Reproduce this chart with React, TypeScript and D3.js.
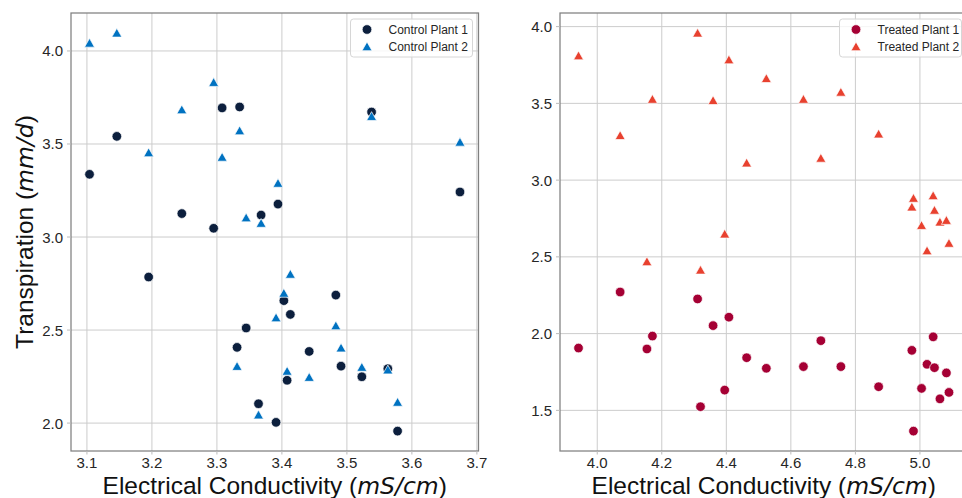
import React, { useEffect, useRef } from 'react';
import * as d3 from 'd3';

// electrical conductivity readings (shared by both plants of a group)
const ecControl = [3.104, 3.146, 3.195, 3.246, 3.295, 3.308, 3.331, 3.335, 3.345, 3.364, 3.368, 3.391,
  3.394, 3.403, 3.408, 3.413, 3.442, 3.483, 3.491, 3.523, 3.538, 3.563, 3.578, 3.674];
const controlPlant1 = [3.337, 3.541, 2.785, 3.126, 3.047, 3.694, 2.407, 3.699, 2.511, 2.104, 3.118, 2.004,
  3.177, 2.658, 2.230, 2.584, 2.385, 2.688, 2.306, 2.249, 3.672, 2.292, 1.957, 3.242];
const controlPlant2 = [4.043, 4.097, 3.454, 3.685, 3.832, 3.430, 2.306, 3.572, 3.104, 2.045, 3.075, 2.567,
  3.290, 2.699, 2.280, 2.801, 2.247, 2.524, 2.405, 2.301, 3.649, 2.287, 2.113, 3.511];

const ecTreated = [3.942, 4.071, 4.154, 4.171, 4.311, 4.320, 4.359, 4.395, 4.408, 4.463, 4.524, 4.639,
  4.693, 4.755, 4.872, 4.975, 4.980, 5.005, 5.022, 5.041, 5.045, 5.062, 5.082, 5.090];
const treatedPlant1 = [1.906, 2.271, 1.900, 1.984, 2.226, 1.524, 2.052, 1.632, 2.107, 1.843, 1.774, 1.785,
  1.954, 1.785, 1.654, 1.891, 1.365, 1.643, 1.800, 1.979, 1.778, 1.575, 1.744, 1.617];
const treatedPlant2 = [3.811, 3.292, 2.470, 3.528, 3.959, 2.415, 3.520, 2.650, 3.785, 3.113, 3.663, 3.528,
  3.144, 3.574, 3.302, 2.826, 2.883, 2.706, 2.541, 2.900, 2.805, 2.728, 2.739, 2.590];

const controlXTicks = [3.1, 3.2, 3.3, 3.4, 3.5, 3.6, 3.7];
const controlYTicks = [2.0, 2.5, 3.0, 3.5, 4.0];
const treatedXTicks = [4.0, 4.2, 4.4, 4.6, 4.8, 5.0];
const treatedYTicks = [1.5, 2.0, 2.5, 3.0, 3.5, 4.0];

const FONT = "'Liberation Sans', Arial, sans-serif";
const MATH = "'DejaVu Sans', sans-serif";
const TEXT = "#262626";

const pad = (lo, hi) => {
  const r = hi - lo;
  return [lo - r * 0.05, hi + r * 0.05];
};

const triPath = "M0,-4.6L5,4.2L-5,4.2Z";

const drawPanel = (svg, cfg) => {
  const { x, s1, s2, xTicks, yTicks, left, right, top, bottom, names, colors, yLabel } = cfg;

  const xScale = d3.scaleLinear()
    .domain(pad(d3.min(x), d3.max(x)))
    .range([left, right]);
  const yScale = d3.scaleLinear()
    .domain(pad(d3.min([...s1, ...s2]), d3.max([...s1, ...s2])))
    .range([bottom, top]);

  const g = svg.append("g");

  // grid lines
  g.selectAll(".vgrid").data(xTicks).enter().append("line")
    .attr("x1", d => xScale(d)).attr("x2", d => xScale(d))
    .attr("y1", top).attr("y2", bottom)
    .attr("stroke", "#cccccc").attr("stroke-width", 1);
  g.selectAll(".hgrid").data(yTicks).enter().append("line")
    .attr("x1", left).attr("x2", right)
    .attr("y1", d => yScale(d)).attr("y2", d => yScale(d))
    .attr("stroke", "#cccccc").attr("stroke-width", 1);

  // frame
  g.append("rect")
    .attr("x", left).attr("y", top)
    .attr("width", right - left).attr("height", bottom - top)
    .attr("fill", "none").attr("stroke", "#808080").attr("stroke-width", 1.25);

  // y ticks + labels
  g.selectAll(".ytick").data(yTicks).enter().append("line")
    .attr("x1", left - 4).attr("x2", left)
    .attr("y1", d => yScale(d)).attr("y2", d => yScale(d))
    .attr("stroke", "#bbbbbb");
  g.selectAll(".ylab").data(yTicks).enter().append("text")
    .attr("x", left - 8)
    .attr("y", d => yScale(d) + 5.5)
    .attr("text-anchor", "end")
    .style("font-family", FONT).style("font-size", "15px").style("fill", TEXT)
    .text(d => d.toFixed(1));

  // x ticks + labels
  g.selectAll(".xtick").data(xTicks).enter().append("line")
    .attr("x1", d => xScale(d)).attr("x2", d => xScale(d))
    .attr("y1", bottom).attr("y2", bottom + 3.5)
    .attr("stroke", "#bbbbbb");
  g.selectAll(".xlab").data(xTicks).enter().append("text")
    .attr("x", d => xScale(d))
    .attr("y", bottom + 17)
    .attr("text-anchor", "middle")
    .style("font-family", FONT).style("font-size", "15px").style("fill", TEXT)
    .text(d => d.toFixed(1));

  // x axis label
  const xl = g.append("text")
    .attr("x", (left + right) / 2)
    .attr("y", 494)
    .attr("text-anchor", "middle")
    .style("font-family", FONT).style("font-size", "24.5px").style("fill", "#111");
  xl.append("tspan").text("Electrical Conductivity (");
  xl.append("tspan").style("font-family", MATH).style("font-style", "italic").style("font-size", "23.5px").text("mS/cm");
  xl.append("tspan").text(")");

  if (yLabel) {
    const yl = g.append("text")
      .attr("transform", `translate(33,${(top + bottom) / 2}) rotate(-90)`)
      .attr("text-anchor", "middle")
      .style("font-family", FONT).style("font-size", "24.5px").style("fill", "#111");
    yl.append("tspan").text("Transpiration (");
    yl.append("tspan").style("font-family", MATH).style("font-style", "italic").style("font-size", "23.5px").text("mm/d");
    yl.append("tspan").text(")");
  }

  // points
  const pts1 = x.map((v, i) => ({ x: v, y: s1[i] }));
  const pts2 = x.map((v, i) => ({ x: v, y: s2[i] }));

  g.selectAll(".c").data(pts1).enter().append("circle")
    .attr("cx", d => xScale(d.x)).attr("cy", d => yScale(d.y))
    .attr("r", 4.8)
    .attr("fill", colors[0]).attr("stroke", "#fff").attr("stroke-width", 0.7);
  g.selectAll(".t").data(pts2).enter().append("path")
    .attr("d", triPath)
    .attr("transform", d => `translate(${xScale(d.x)},${yScale(d.y)})`)
    .attr("fill", colors[1]).attr("stroke", "#fff").attr("stroke-width", 0.7);

  // legend
  const lw = 122, lh = 38;
  const lx = right - 6 - lw, ly = top + 6;
  const lg = g.append("g").attr("transform", `translate(${lx},${ly})`);
  lg.append("rect")
    .attr("width", lw).attr("height", lh).attr("rx", 3)
    .attr("fill", "#fff").attr("fill-opacity", 0.8)
    .attr("stroke", "#d6d6d6").attr("stroke-width", 1);
  lg.append("circle").attr("cx", 16.5).attr("cy", 10.5).attr("r", 4.8)
    .attr("fill", colors[0]).attr("stroke", "#fff").attr("stroke-width", 0.7);
  lg.append("path").attr("d", triPath).attr("transform", "translate(16.5,27.5)")
    .attr("fill", colors[1]).attr("stroke", "#fff").attr("stroke-width", 0.7);
  lg.selectAll(".lt").data(names).enter().append("text")
    .attr("x", 38)
    .attr("y", (d, i) => 14.5 + i * 17)
    .style("font-family", FONT).style("font-size", "12px").style("fill", TEXT)
    .text(d => d);
};

const App = () => {
  const svgRef = useRef(null);

  useEffect(() => {
    const svg = d3.select(svgRef.current);
    svg.selectAll("*").remove();

    drawPanel(svg, {
      x: ecControl, s1: controlPlant1, s2: controlPlant2,
      xTicks: controlXTicks, yTicks: controlYTicks,
      left: 71, right: 478.5, top: 13, bottom: 451,
      names: ["Control Plant 1", "Control Plant 2"],
      colors: ["#0c1f3d", "#0072c1"],
      yLabel: true
    });

    drawPanel(svg, {
      x: ecTreated, s1: treatedPlant1, s2: treatedPlant2,
      xTicks: treatedXTicks, yTicks: treatedYTicks,
      left: 560, right: 967.5, top: 13, bottom: 451,
      names: ["Treated Plant 1", "Treated Plant 2"],
      colors: ["#a50034", "#e8412f"],
      yLabel: false
    });
  }, []);

  return (
    <svg
      ref={svgRef}
      width={962}
      height={498}
      style={{ position: 'absolute', left: 0, top: 0, background: '#fff' }}
    ></svg>
  );
};

export default App;
